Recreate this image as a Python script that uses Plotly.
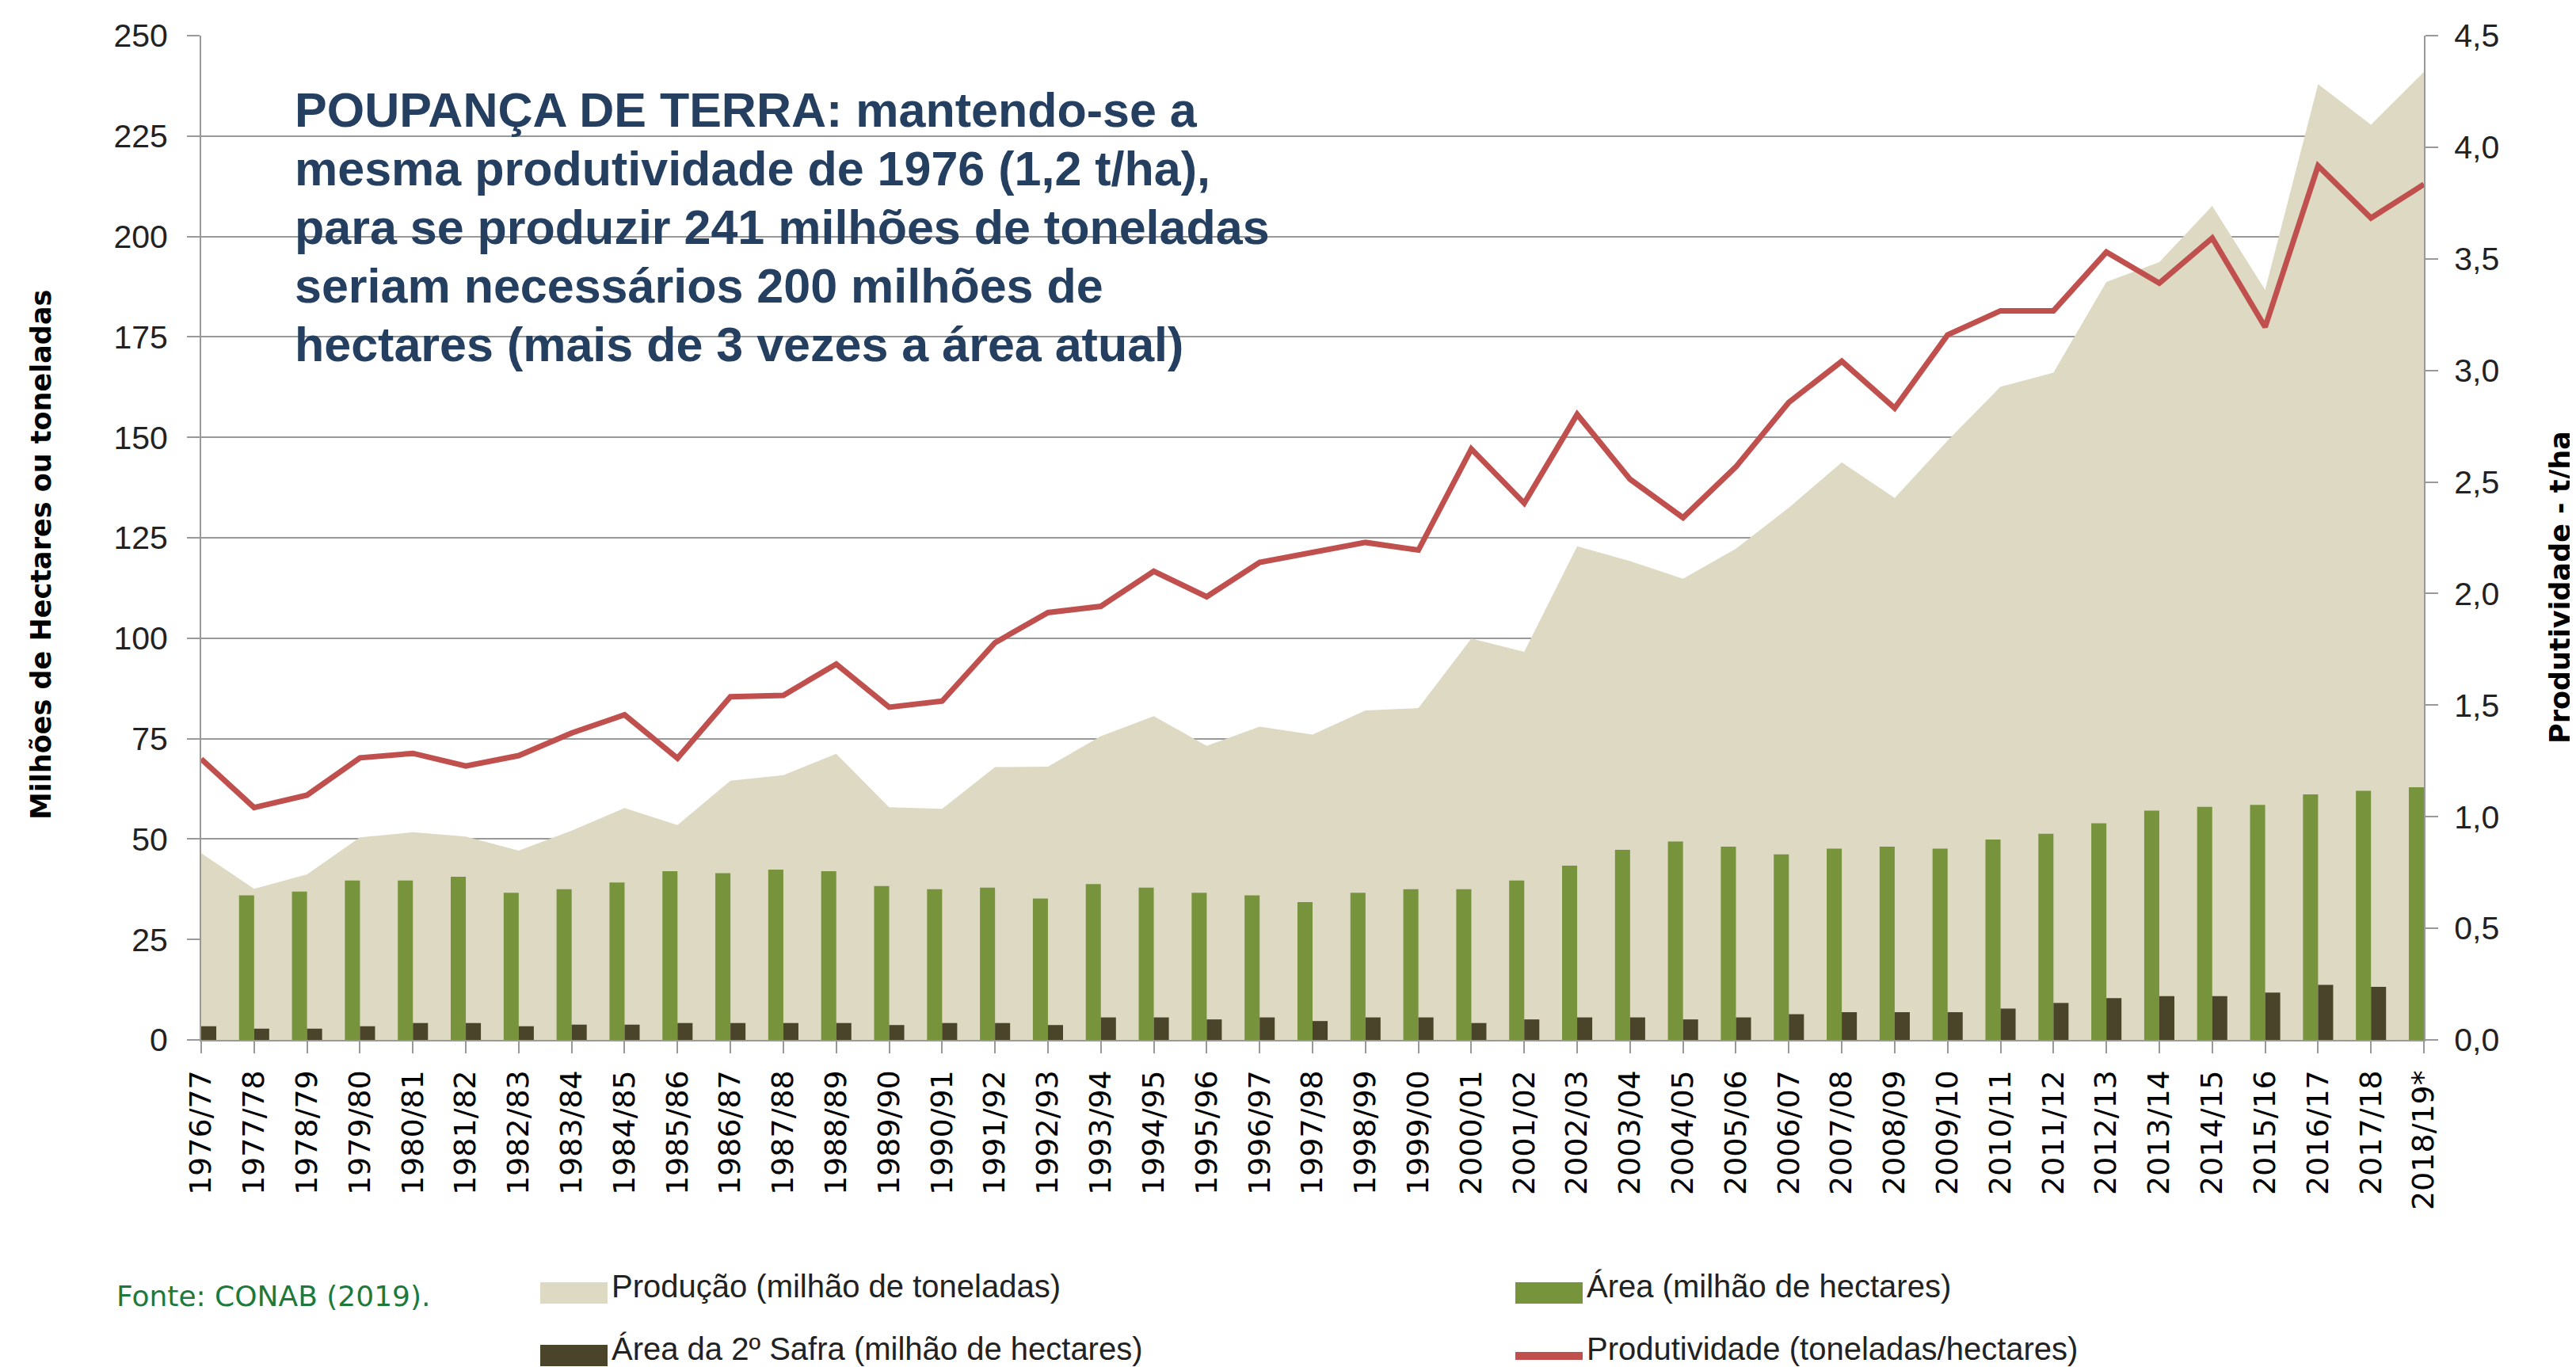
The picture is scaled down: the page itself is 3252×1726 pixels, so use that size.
import plotly.graph_objects as go

# ---------------- data ----------------
categorias = ["1976/77", "1977/78", "1978/79", "1979/80", "1980/81", "1981/82", "1982/83",
              "1983/84", "1984/85", "1985/86", "1986/87", "1987/88", "1988/89", "1989/90",
              "1990/91", "1991/92", "1992/93", "1993/94", "1994/95", "1995/96", "1996/97",
              "1997/98", "1998/99", "1999/00", "2000/01", "2001/02", "2002/03", "2003/04",
              "2004/05", "2005/06", "2006/07", "2007/08", "2008/09", "2009/10", "2010/11",
              "2011/12", "2012/13", "2013/14", "2014/15", "2015/16", "2016/17", "2017/18",
              "2018/19*"]

producao = [46.5, 37.6, 41.2, 50.4, 51.7, 50.6, 47.1, 52.1, 57.7, 53.5, 64.5, 65.9, 71.2,
            57.9, 57.5, 67.9, 68.0, 75.6, 80.6, 73.2, 78.0, 76.0, 82.0, 82.6, 99.9, 96.6,
            122.9, 119.2, 114.8, 122.3, 132.5, 143.8, 134.9, 149.2, 162.6, 166.1, 188.7,
            193.6, 207.6, 186.7, 237.9, 227.8, 241.0]

area = [37.3, 36.0, 36.9, 39.7, 39.7, 40.6, 36.6, 37.5, 39.2, 42.0, 41.5, 42.4, 42.0, 38.3,
        37.5, 37.9, 35.2, 38.8, 37.9, 36.6, 36.0, 34.3, 36.6, 37.5, 37.5, 39.7, 43.4, 47.3,
        49.4, 48.1, 46.2, 47.6, 48.1, 47.6, 49.9, 51.3, 53.9, 57.1, 58.0, 58.5, 61.1, 62.0,
        62.9]

area_2safra = [3.4, 2.8, 2.8, 3.4, 4.2, 4.2, 3.4, 3.8, 3.8, 4.2, 4.2, 4.2, 4.2, 3.7, 4.2,
               4.2, 3.7, 5.6, 5.6, 5.1, 5.6, 4.7, 5.6, 5.6, 4.2, 5.1, 5.6, 5.6, 5.1, 5.6,
               6.4, 6.9, 6.9, 6.9, 7.8, 9.2, 10.4, 10.9, 10.9, 11.8, 13.7, 13.2, 14.1]

produtividade = [1.259, 1.041, 1.097, 1.264, 1.284, 1.227, 1.274, 1.375, 1.457, 1.262, 1.538,
                 1.544, 1.684, 1.491, 1.518, 1.780, 1.915, 1.943, 2.100, 1.986, 2.140, 2.185,
                 2.229, 2.195, 2.648, 2.405, 2.803, 2.512, 2.340, 2.568, 2.857, 3.041, 2.831,
                 3.159, 3.267, 3.267, 3.530, 3.391, 3.593, 3.194, 3.916, 3.683, 3.834]

nomes = ["Produção (milhão de toneladas)", "Área (milhão de hectares)",
         "Área da 2º Safra (milhão de hectares)", "Produtividade (toneladas/hectares)"]

linhas_texto = ["POUPANÇA DE TERRA: mantendo-se a",
                "mesma produtividade de 1976 (1,2 t/ha),",
                "para se produzir 241 milhões de toneladas",
                "seriam necessários 200 milhões de",
                "hectares (mais de 3 vezes a área atual)"]

# ---------------- layout helpers ----------------
W, H = 3252, 1726
ML, MR, MT, MB = 246, 200, 37, 421
PW = W - ML - MR
PH = H - MT - MB


def px_x(px):
    return (px - ML) / PW


def px_y(py):
    return (H - MB - py) / PH


C_AREA = "#DDD9C3"
C_GREEN = "#77933C"
C_DARK = "#4A452A"
C_RED = "#C0504D"
C_GRID = "#999999"
SANS = "Liberation Sans, Arial, sans-serif"
DEJAVU = "DejaVu Sans, Verdana, sans-serif"

x = list(range(len(categorias)))

fig = go.Figure()
fig.add_trace(go.Scatter(x=x, y=producao, name=nomes[0], mode="lines",
                         line=dict(width=0, color=C_AREA), fill="tozeroy",
                         fillcolor=C_AREA, yaxis="y", showlegend=False))
fig.add_trace(go.Bar(x=x, y=area, name=nomes[1], marker=dict(color=C_GREEN, line=dict(width=0)),
                     yaxis="y2", offsetgroup="a", showlegend=False))
fig.add_trace(go.Bar(x=x, y=area_2safra, name=nomes[2], marker=dict(color=C_DARK, line=dict(width=0)),
                     yaxis="y2", offsetgroup="b", showlegend=False))
fig.add_trace(go.Scatter(x=x, y=produtividade, name=nomes[3], mode="lines",
                         line=dict(color=C_RED, width=7), yaxis="y3", showlegend=False))

tickfont = dict(family=SANS, size=41, color="#222222")

fig.update_layout(
    width=W, height=H,
    margin=dict(l=ML, r=MR, t=MT, b=MB, autoexpand=False),
    paper_bgcolor="white", plot_bgcolor="white",
    separators=",.",
    barmode="group", bargap=0.43, bargroupgap=0,
    showlegend=False,
    xaxis=dict(range=[0, len(categorias) - 1], tickmode="array", tickvals=x, ticktext=categorias,
               tickangle=-90, ticks="outside", ticklen=15, tickwidth=2, tickcolor=C_GRID,
               showline=True, linecolor=C_GRID, linewidth=2, showgrid=False, zeroline=False,
               ticklabelstandoff=6,
               tickfont=dict(family=DEJAVU, size=38, color="#000000")),
    yaxis=dict(range=[0, 250], tickmode="array", tickvals=list(range(0, 251, 25)),
               showgrid=True, gridcolor=C_GRID, gridwidth=2, zeroline=False,
               showline=True, linecolor=C_GRID, linewidth=2, ticks="outside", ticklen=16,
               tickwidth=2, tickcolor=C_GRID, tickfont=tickfont, ticklabelstandoff=16),
    yaxis2=dict(range=[0, 250], overlaying="y", visible=False, showgrid=False),
    yaxis3=dict(range=[0, 4.5], overlaying="y", side="right", tickmode="array",
                tickvals=[i * 0.5 for i in range(10)], tickformat=".1f",
                showgrid=False, zeroline=False, showline=True, linecolor=C_GRID, linewidth=2,
                ticks="outside", ticklen=16, tickwidth=2, tickcolor=C_GRID, tickfont=tickfont,
                ticklabelstandoff=12),
)

shapes = []
annotations = []

# white text box behind the message (hides gridlines)
shapes.append(dict(type="rect", xref="paper", yref="paper", layer="between",
                   x0=px_x(340), x1=px_x(1665), y0=px_y(730), y1=px_y(100),
                   fillcolor="white", line=dict(width=0)))

# message, one annotation per line
linha_y = [131, 205, 279, 353, 427]
for linha, ly in zip(linhas_texto, linha_y):
    annotations.append(dict(text=linha, xref="paper", yref="paper", x=px_x(362), y=px_y(ly),
                            xanchor="left", yanchor="middle", align="left", showarrow=False,
                            font=dict(family=SANS, size=61, color="#243F60", weight="bold")))

# axis titles
annotations.append(dict(text="Milhões de Hectares ou toneladas", xref="paper", yref="paper",
                        x=px_x(44), y=px_y(693), xanchor="center", yanchor="middle",
                        textangle=-90, showarrow=False,
                        font=dict(family=DEJAVU, size=35, color="#000000", weight="bold")))
annotations.append(dict(text="Produtividade - t/ha", xref="paper", yref="paper",
                        x=px_x(3224), y=px_y(734), xanchor="center", yanchor="middle",
                        textangle=-90, showarrow=False,
                        font=dict(family=DEJAVU, size=35, color="#000000", weight="bold")))

# source
annotations.append(dict(text="Fonte: CONAB (2019).", xref="paper", yref="paper",
                        x=px_x(137), y=px_y(1628), xanchor="left", yanchor="middle",
                        showarrow=False,
                        font=dict(family=DEJAVU, size=36, color="#1D7A3C")))

# custom legend (2 x 2)
leg = [
    (nomes[0], "rect", C_AREA, 674, 1625),
    (nomes[1], "rect", C_GREEN, 1905, 1625),
    (nomes[2], "rect", C_DARK, 674, 1704),
    (nomes[3], "line", C_RED, 1905, 1704),
]
for nome, kind, cor, sx, sy in leg:
    if kind == "rect":
        shapes.append(dict(type="rect", xref="paper", yref="paper",
                           x0=px_x(sx), x1=px_x(sx + 85), y0=px_y(sy + 13), y1=px_y(sy - 14),
                           fillcolor=cor, line=dict(width=0)))
    else:
        shapes.append(dict(type="line", xref="paper", yref="paper",
                           x0=px_x(sx), x1=px_x(sx + 85), y0=px_y(sy), y1=px_y(sy),
                           line=dict(color=cor, width=10)))
    annotations.append(dict(text=nome, xref="paper", yref="paper", x=px_x(sx + 88),
                            y=px_y(sy - 9), xanchor="left", yanchor="middle", showarrow=False,
                            font=dict(family=SANS, size=40, color="#222222")))

fig.update_layout(shapes=shapes, annotations=annotations)

fig.write_html("out.html")
